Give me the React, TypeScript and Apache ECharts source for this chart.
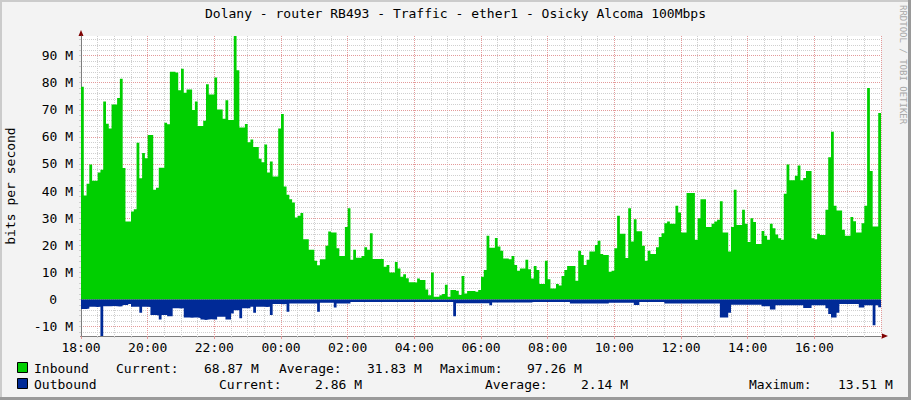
import React, { useEffect, useRef } from 'react';
import * as echarts from 'echarts';

const TITLE = 'Dolany - router RB493 - Traffic - ether1 - Osicky Alcoma 100Mbps';
const Y_NAME = 'bits per second';
const WATERMARK = 'RRDTOOL / TOBI OETIKER';
const STEP_MINUTES = 5;
const SPAN_MINUTES = 1440;
const LABEL_INTERVAL = 120;
const X_LABELS = ['18:00', '20:00', '22:00', '00:00', '02:00', '04:00', '06:00', '08:00', '10:00', '12:00', '14:00', '16:00'];
const Y_MIN = -13.51;
const Y_MAX = 97.26;
const Y_MAJOR_SPLITS = 11; // gives a 10 M step
const Y_MINOR_SPLITS = 55; // gives a 2 M step
const ZERO_LABEL = '0';

// Mbit/s, one value per 5 minutes starting 18:00
const INBOUND = [
  78.5, 38.4, 42.7, 49.8, 43.8, 43.8, 46.9, 47.9, 73.1, 64.9,
  63.1, 72.0, 72.0, 74.4, 81.5, 48.5, 28.8, 28.8, 32.5, 33.3,
  57.8, 44.7, 54.1, 52.1, 60.7, 60.7, 40.5, 41.2, 48.6, 48.6,
  65.2, 64.7, 84.1, 84.1, 83.8, 77.2, 85.2, 76.3, 77.5, 77.5,
  69.9, 73.1, 64.0, 64.0, 66.0, 79.4, 75.7, 75.7,
  81.9, 70.1, 70.1, 66.7, 73.5, 66.2, 66.2, 97.26, 84.6, 63.5,
  63.5, 64.8, 58.0, 59.0, 56.3, 56.3, 51.9, 50.6, 57.2, 46.9,
  50.9, 45.4, 45.4, 63.1, 68.5, 41.7, 38.6, 37.0, 35.8, 30.2,
  30.9, 31.9, 22.2, 22.2, 18.3, 18.3, 14.3, 12.6, 14.8, 14.8,
  19.8, 25.1, 24.7, 24.7, 18.9, 16.0, 16.0, 26.7,
  33.7, 14.6, 18.3, 15.4, 15.4, 16.0, 19.3, 18.3, 24.4, 14.9,
  14.9, 14.9, 14.9, 12.1, 12.7, 9.9, 9.9, 13.8, 11.4, 8.4,
  9.3, 7.8, 6.3, 6.3, 6.2, 7.7, 7.2, 7.2, 3.7, 1.5,
  9.9, 1.0, 1.0, 1.5, 2.0, 5.4, 1.0, 3.5, 3.5, 3.2,
  1.6, 8.6, 2.2, 3.1, 3.1, 3.1, 2.8, 3.5,
  8.4, 10.9, 23.5, 19.1, 19.1, 22.7, 19.5, 18.0, 15.1, 15.1,
  14.8, 16.0, 12.7, 10.6, 11.4, 11.4, 14.6, 11.1, 7.7, 12.3,
  10.9, 5.7, 5.7, 14.3, 7.4, 4.0, 4.0, 5.7, 5.1, 8.6,
  10.9, 12.3, 12.3, 12.3, 6.9, 18.0, 16.4, 12.7, 14.6, 17.7,
  17.7, 20.1, 21.7, 16.8, 16.4, 16.4, 10.2, 10.6,
  18.9, 30.9, 24.2, 24.2, 15.3, 33.7, 21.4, 29.6, 25.2, 25.2,
  19.8, 14.3, 18.0, 16.8, 16.8, 19.3, 23.0, 24.4, 28.1, 28.8,
  27.9, 27.9, 34.6, 32.1, 24.7, 24.7, 39.3, 39.3, 39.3, 22.0,
  30.0, 37.0, 37.0, 26.7, 26.7, 27.9, 28.8, 29.4, 36.2, 24.7,
  24.7, 17.7, 26.7, 40.5, 27.5, 27.5, 33.1, 27.9, 21.2,
  30.0, 28.6, 20.5, 20.5, 25.3, 23.5, 22.0, 27.9, 26.3, 24.0,
  22.6, 22.0, 39.0, 49.8, 44.0, 44.0, 45.7, 49.4, 44.0, 44.8,
  47.4, 47.4, 22.6, 22.2, 24.2, 23.8, 23.8, 33.1, 52.5, 61.9,
  34.6, 32.8, 32.8, 25.7, 23.5, 23.5, 30.4, 28.9, 24.7, 24.7,
  28.1, 34.6, 78.1, 47.4, 26.9, 26.9, 68.87,
];

// Mbit/s, drawn below zero
const OUTBOUND = [
  3.5, 3.5, 3.4, 2.7, 2.7, 2.8, 2.7, 13.51, 2.5, 2.5,
  2.5, 2.4, 2.5, 2.6, 2.5, 2.1, 2.1, 1.7, 2.7, 2.7,
  2.7, 4.9, 2.7, 2.7, 2.8, 5.8, 5.8, 5.9, 7.4, 5.8,
  5.8, 6.2, 6.2, 3.3, 3.3, 3.4, 3.3, 6.7, 6.7, 6.8,
  6.7, 6.7, 6.9, 7.4, 7.6, 7.4, 7.3, 7.4, 7.4, 6.4,
  6.4, 6.4, 7.4, 7.4, 5.2, 4.0, 4.0, 7.0, 3.3, 3.3,
  3.3, 2.7, 4.9, 2.7, 2.7, 2.7, 2.8, 2.7, 5.8, 1.7,
  1.7, 1.7, 1.8, 1.7, 4.6, 1.5, 1.5, 1.5, 1.5, 1.5,
  1.5, 1.5, 1.5, 1.5, 1.5, 4.6, 1.2, 1.2, 1.2, 1.2,
  1.2, 3.0, 1.5, 1.5, 1.5, 1.5, 1.5, 1.0, 1.0, 1.0,
  1.0, 1.0, 1.0, 1.0, 1.0, 1.0, 1.0, 1.0, 1.0, 1.0,
  1.0, 1.0, 1.0, 1.0, 1.0, 1.0, 1.0, 1.0, 1.0, 1.0,
  1.0, 1.0, 1.0, 1.0, 1.0, 1.0, 1.0, 1.0, 1.0, 1.0,
  1.0, 1.0, 1.0, 1.0, 6.2, 1.4, 1.4, 1.4, 1.4, 1.4,
  1.4, 1.4, 1.4, 1.4, 1.4, 1.4, 1.4, 2.2, 1.1, 1.1,
  1.1, 1.1, 1.1, 1.1, 1.1, 1.1, 1.1, 1.1, 1.1, 1.1,
  1.1, 1.1, 1.0, 1.0, 1.0, 1.0, 1.0, 1.0, 1.0, 1.0,
  1.0, 1.0, 1.0, 1.0, 1.0, 1.0, 1.5, 1.5, 1.5, 1.5,
  1.5, 1.5, 1.5, 1.5, 1.5, 1.5, 1.5, 1.5, 1.5, 1.5,
  1.2, 1.2, 1.2, 1.2, 1.2, 1.2, 1.2, 1.2, 1.2, 2.1,
  2.1, 1.0, 1.0, 1.0, 1.0, 1.0, 1.0, 1.0, 1.0, 1.0,
  1.5, 1.5, 1.5, 1.5, 1.5, 1.5, 1.5, 1.5, 1.5, 1.5,
  1.5, 1.5, 1.5, 1.5, 1.5, 1.5, 1.5, 1.5, 1.5, 1.5,
  6.7, 6.7, 6.7, 4.9, 2.0, 2.0, 2.0, 2.0, 2.0, 2.0,
  2.0, 2.0, 2.0, 2.0, 2.0, 2.5, 2.5, 2.5, 3.7, 3.7,
  2.2, 2.2, 2.2, 2.2, 2.2, 2.2, 2.2, 2.2, 2.2, 2.2,
  3.2, 3.2, 3.2, 2.2, 2.2, 2.2, 2.2, 2.2, 3.3, 5.4,
  6.7, 6.7, 4.9, 1.7, 1.7, 1.7, 1.7, 1.7, 1.7, 1.7,
  3.0, 3.0, 2.2, 2.2, 2.2, 9.5, 2.2, 2.86,
];

const LEGEND_NAMES = ['Inbound', 'Outbound'];
const INBOUND_STATS = ['Current:', '68.87 M', 'Average:', '31.83 M', 'Maximum:', '97.26 M'];
const OUTBOUND_STATS = ['Current:', '2.86 M', 'Average:', '2.14 M', 'Maximum:', '13.51 M'];

const COLOR_IN = '#00CF00';
const COLOR_OUT = '#002A97';
const FONT = "'DejaVu Sans Mono', monospace";
const FS = 13;
const MAJOR_GRID = '#e39a9a';
const MINOR_GRID = '#cfcfcf';
const AXIS_COLOR = '#7d7d7d';
const ARROW_COLOR = '#7F0000';

// layout (pixel positions of legend columns)
const ROW_Y = [368, 384];
const ROW1_X = [116, 204, 279, 367, 440, 527];
const ROW2_X = [219, 315, 485, 581, 749, 838];

const isZero = (v: number) => Math.abs(v) < 1e-9;

function toSteps(values: number[], sign: number) {
  const pts = values.map((v, i) => [i * STEP_MINUTES, sign * v]);
  pts.push([values.length * STEP_MINUTES, sign * values[values.length - 1]]);
  return pts;
}

function legendText(text: string, x: number, y: number) {
  return {
    type: 'text',
    x,
    y,
    style: { text, fill: '#000', font: `${FS}px ${FONT}`, textAlign: 'left', textVerticalAlign: 'middle' },
  };
}

export default function App() {
  const ref = useRef<HTMLDivElement>(null);
  useEffect(() => {
    const chart = echarts.init(ref.current!, null, { renderer: 'svg' });
    const graphic: any[] = [
      { type: 'rect', shape: { x: 0, y: 0, width: 911, height: 2 }, style: { fill: '#cbcbcb' }, silent: true },
      { type: 'rect', shape: { x: 0, y: 0, width: 2, height: 400 }, style: { fill: '#cbcbcb' }, silent: true },
      { type: 'rect', shape: { x: 908, y: 0, width: 3, height: 400 }, style: { fill: '#9a9a9a' }, silent: true },
      { type: 'rect', shape: { x: 0, y: 397, width: 911, height: 3 }, style: { fill: '#9a9a9a' }, silent: true },
      {
        type: 'text', x: 903, y: 5, rotation: -Math.PI / 2,
        style: { text: WATERMARK, fill: '#a8a8a8', font: `9px ${FONT}`, textAlign: 'left', textVerticalAlign: 'middle' },
      },
      { type: 'rect', shape: { x: 17.5, y: ROW_Y[0] - 5.5, width: 10, height: 10 }, style: { fill: COLOR_IN, stroke: '#000', lineWidth: 1 } },
      { type: 'rect', shape: { x: 17.5, y: ROW_Y[1] - 5.5, width: 10, height: 10 }, style: { fill: COLOR_OUT, stroke: '#000', lineWidth: 1 } },
      legendText(LEGEND_NAMES[0], 34, ROW_Y[0]),
      legendText(LEGEND_NAMES[1], 34, ROW_Y[1]),
      ...INBOUND_STATS.map((t, i) => legendText(t, ROW1_X[i], ROW_Y[0])),
      ...OUTBOUND_STATS.map((t, i) => legendText(t, ROW2_X[i], ROW_Y[1])),
    ];

    const baseX = {
      type: 'value', min: 0, max: SPAN_MINUTES, interval: LABEL_INTERVAL, position: 'bottom',
    };
    const baseY = { type: 'value', min: Y_MIN, max: Y_MAX, position: 'left' };

    chart.setOption({
      animation: false,
      backgroundColor: '#F3F3F3',
      textStyle: { fontFamily: FONT },
      title: {
        text: TITLE, left: 'center', top: 2,
        textStyle: { fontFamily: FONT, fontSize: FS, fontWeight: 'normal', color: '#000' },
      },
      grid: {
        left: 81, top: 36, width: 800, height: 300, show: true, backgroundColor: '#ffffff', borderWidth: 0,
        outerBoundsMode: 'none', containLabel: false,
      },
      xAxis: [
        {
          ...baseX,
          z: 0,
          axisLine: {
            show: true, onZero: false, symbol: ['none', 'triangle'], symbolSize: [5, 6], symbolOffset: [0, 4],
            lineStyle: { color: ARROW_COLOR, width: 1 },
          },
          axisTick: { show: false }, axisLabel: { show: false }, splitLine: { show: false },
        },
        {
          ...baseX,
          z: 1,
          axisLine: { show: true, onZero: false, lineStyle: { color: AXIS_COLOR, width: 1 } },
          axisTick: { show: true, length: 3, lineStyle: { color: MAJOR_GRID } },
          minorTick: { show: true, splitNumber: 4, length: 2, lineStyle: { color: MINOR_GRID } },
          axisLabel: {
            margin: 5, color: '#000', fontFamily: FONT, fontSize: FS, showMaxLabel: false,
            formatter: (v: number) => X_LABELS[Math.round(v / LABEL_INTERVAL)] ?? '',
          },
          splitLine: { show: true, lineStyle: { color: MAJOR_GRID, type: [1, 1], width: 1 } },
          minorSplitLine: { show: true, lineStyle: { color: MINOR_GRID, type: [1, 1], width: 1 } },
        },
      ],
      yAxis: [
        {
          ...baseY,
          z: 2,
          splitNumber: Y_MAJOR_SPLITS,
          name: Y_NAME, nameLocation: 'middle', nameGap: 64,
          nameTextStyle: { fontFamily: FONT, fontSize: FS, color: '#000' },
          axisLine: { show: true, onZero: false, lineStyle: { color: AXIS_COLOR, width: 1 } },
          axisTick: { show: false },
          axisLabel: {
            margin: 8, color: '#000', fontFamily: FONT, fontSize: FS, showMinLabel: false, showMaxLabel: false,
            formatter: (v: number) => (isZero(v) ? '' : `${Math.round(v)} M`),
          },
          splitLine: { show: true, showMinLine: false, showMaxLine: false, lineStyle: { color: MAJOR_GRID, type: [1, 1], width: 1 } },
        },
        {
          ...baseY,
          z: 0,
          splitNumber: Y_MINOR_SPLITS,
          axisLine: {
            show: true, onZero: false, symbol: ['none', 'triangle'], symbolSize: [5, 6], symbolOffset: [0, 3],
            lineStyle: { color: ARROW_COLOR, width: 1 },
          },
          axisTick: { show: true, length: 2, lineStyle: { color: MINOR_GRID } },
          axisLabel: {
            show: true, margin: 24, color: '#000', fontFamily: FONT, fontSize: FS, showMinLabel: false, showMaxLabel: false,
            formatter: (v: number) => (isZero(v) ? ZERO_LABEL : ''),
          },
          splitLine: { show: true, showMinLine: false, showMaxLine: false, lineStyle: { color: MINOR_GRID, type: [1, 1], width: 1 } },
        },
      ],
      series: [
        {
          type: 'line', name: LEGEND_NAMES[0], xAxisIndex: 1, yAxisIndex: 0, step: 'end',
          data: toSteps(INBOUND, 1), showSymbol: false, symbol: 'none',
          lineStyle: { width: 0 }, areaStyle: { color: COLOR_IN, opacity: 1 }, z: 3,
        },
        {
          type: 'line', name: LEGEND_NAMES[1], xAxisIndex: 1, yAxisIndex: 0, step: 'end',
          data: toSteps(OUTBOUND, -1), showSymbol: false, symbol: 'none',
          lineStyle: { width: 0 }, areaStyle: { color: COLOR_OUT, opacity: 1 }, z: 3,
        },
      ],
      graphic,
    });
    return () => chart.dispose();
  }, []);
  return <div ref={ref} style={{ position: 'absolute', left: 0, top: 0, width: 911, height: 400 }} />;
}
